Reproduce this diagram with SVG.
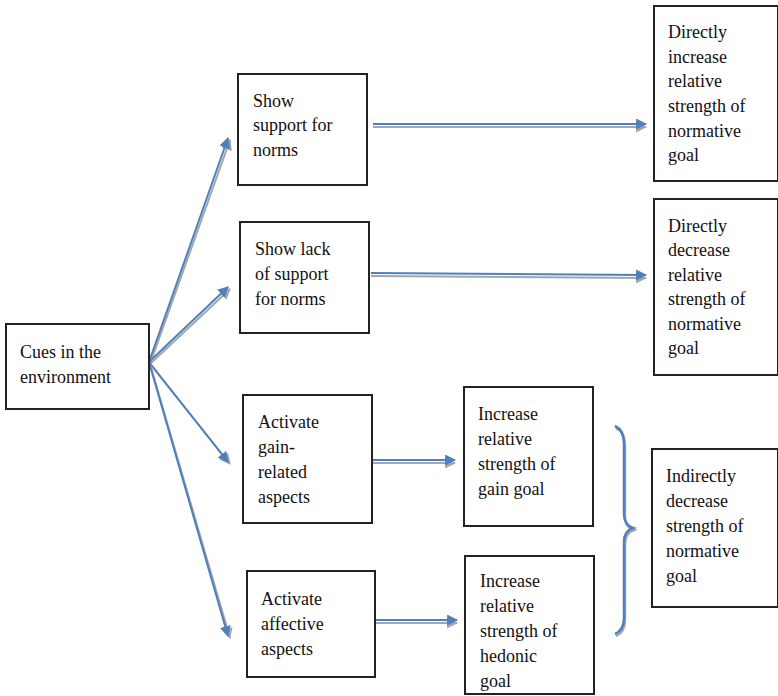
<svg xmlns="http://www.w3.org/2000/svg" width="778" height="696" viewBox="0 0 778 696">
<style>
rect{fill:#fff;stroke:#222;stroke-width:2}
text{font-family:"Liberation Serif","Times New Roman",serif;font-size:18px;fill:#111}
.sh{stroke:#a6a6a6;stroke-width:2;fill:none;marker-end:url(#as)}
.ln{stroke:#4f7fbd;stroke-width:2;fill:none;marker-end:url(#ah)}
.br{stroke:#4f7fbd;stroke-width:2.5;fill:none}
.brs{stroke:#a6a6a6;stroke-width:2.5;fill:none}
</style>
<defs>
<marker id="ah" viewBox="0 0 10 10" refX="9" refY="5" markerWidth="5.5" markerHeight="5.5" markerUnits="strokeWidth" orient="auto"><path d="M0,0 L10,5 L0,10 z" fill="#4f7fbd"/></marker>
<marker id="as" viewBox="0 0 10 10" refX="9" refY="5" markerWidth="5.5" markerHeight="5.5" markerUnits="strokeWidth" orient="auto"><path d="M0,0 L10,5 L0,10 z" fill="#a6a6a6"/></marker>
</defs>
<g id="connectors">
<path class="sh" d="M150,364 L230,140"/><path class="ln" d="M149,362 L228,138"/>
<path class="sh" d="M150,364 L230,289"/><path class="ln" d="M149,362 L228,287"/>
<path class="sh" d="M150,364 L230,464"/><path class="ln" d="M149,362 L228,462"/>
<path class="sh" d="M150,364 L230,638"/><path class="ln" d="M149,362 L228,636"/>
<path class="sh" d="M373,127 L646,127"/><path class="ln" d="M373,124 L646,124"/>
<path class="sh" d="M371,276 L646,278"/><path class="ln" d="M371,273 L646,275"/>
<path class="sh" d="M373,463 L455,463"/><path class="ln" d="M373,460 L455,460"/>
<path class="sh" d="M375,623 L457,623"/><path class="ln" d="M375,620 L457,620"/>
<path class="brs" d="M616,428 Q625,432 625,446 L625,516 Q625,527 634,530 Q625,533 625,544 L625,620 Q625,632 616,636"/>
<path class="br" d="M615,426 Q624,430 624,444 L624,514 Q624,525 633,528 Q624,531 624,542 L624,618 Q624,630 615,634"/>
</g>
<g id="cues"><rect x="6" y="324" width="143" height="85"/><text x="20" y="358">Cues in the</text><text x="20" y="383">environment</text></g>
<g id="support"><rect x="238" y="74" width="129" height="111"/><text x="253" y="107">Show</text><text x="253" y="131">support for</text><text x="253" y="156">norms</text></g>
<g id="lack"><rect x="240" y="222" width="129" height="111"/><text x="255" y="255">Show lack</text><text x="255" y="280">of support</text><text x="255" y="305">for norms</text></g>
<g id="gain"><rect x="243" y="395" width="129" height="128"/><text x="258" y="428">Activate</text><text x="258" y="453">gain-</text><text x="258" y="478">related</text><text x="258" y="503">aspects</text></g>
<g id="affective"><rect x="247" y="571" width="128" height="106"/><text x="261" y="605">Activate</text><text x="261" y="630">affective</text><text x="261" y="655">aspects</text></g>
<g id="incgain"><rect x="464" y="387" width="129" height="139"/><text x="478" y="420">Increase</text><text x="478" y="445">relative</text><text x="478" y="470">strength of</text><text x="478" y="495">gain goal</text></g>
<g id="inchedonic"><rect x="465" y="556" width="129" height="138"/><text x="480" y="587">Increase</text><text x="480" y="612">relative</text><text x="480" y="637">strength of</text><text x="480" y="662">hedonic</text><text x="480" y="687">goal</text></g>
<g id="dirinc"><rect x="654" y="6" width="124" height="175"/><text x="668" y="38">Directly</text><text x="668" y="63">increase</text><text x="668" y="87">relative</text><text x="668" y="112">strength of</text><text x="668" y="137">normative</text><text x="668" y="161">goal</text></g>
<g id="dirdec"><rect x="654" y="199" width="124" height="176"/><text x="668" y="232">Directly</text><text x="668" y="256">decrease</text><text x="668" y="281">relative</text><text x="668" y="305">strength of</text><text x="668" y="330">normative</text><text x="668" y="354">goal</text></g>
<g id="indirect"><rect x="652" y="449" width="126" height="158"/><text x="666" y="482">Indirectly</text><text x="666" y="507">decrease</text><text x="666" y="532">strength of</text><text x="666" y="557">normative</text><text x="666" y="582">goal</text></g>
</svg>
